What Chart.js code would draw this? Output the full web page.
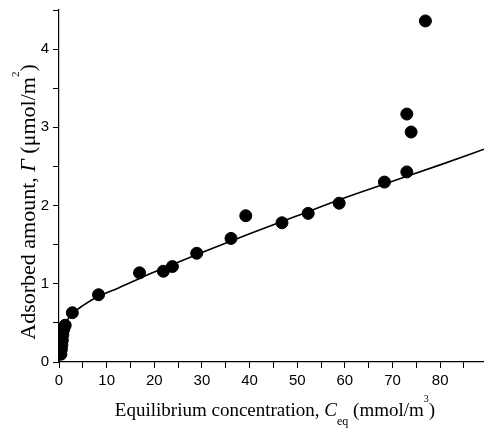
<!DOCTYPE html>
<html>
<head>
<meta charset="utf-8">
<script src="https://cdn.jsdelivr.net/npm/chart.js@4.4.1/dist/chart.umd.min.js"></script>
<style>
html, body { margin: 0; padding: 0; background: #fff; }
#wrap { width: 484px; height: 428px; }
</style>
</head>
<body>
<div id="wrap"><canvas id="adsChart"></canvas></div>
<script>
// measured points, C_eq (mmol/m3) vs adsorbed amount (umol/m2)
const ceq = [0.4, 0.5, 0.6, 0.7, 0.8, 1.0, 1.3, 2.8, 8.3, 16.9, 21.9, 23.8, 28.9, 36.1, 39.2, 46.8, 52.3, 58.8, 68.3, 73.0, 73.0, 73.9, 76.9]
const gamma = [0.1, 0.16, 0.22, 0.28, 0.35, 0.42, 0.47, 0.63, 0.86, 1.14, 1.16, 1.22, 1.39, 1.58, 1.87, 1.78, 1.90, 2.03, 2.30, 2.43, 3.17, 2.94, 4.36]

// fitted curve
const fitX = [0, 0.2, 0.5, 1, 2, 3, 5, 8, 12.6, 20, 30, 40, 50, 60, 70, 80, 89.2]
const fitY = [0, 0.25, 0.38, 0.46, 0.56, 0.63, 0.72, 0.83, 0.95, 1.15, 1.40, 1.64, 1.87, 2.10, 2.31, 2.52, 2.72]

const serif = "'Liberation Serif', 'Times New Roman', serif"
const sans = "'Liberation Sans', Arial, sans-serif"

function drawParts(ctx, parts, cx, y) {
	let total = 0
	parts.forEach(p => {
		ctx.font = p[1]
		total += ctx.measureText(p[0]).width
	})
	let x = cx - total / 2
	parts.forEach(p => {
		ctx.font = p[1]
		ctx.fillText(p[0], x, y + p[2])
		x += ctx.measureText(p[0]).width
	})
}

const axisTitles = {
	id: "axisTitles",
	afterDraw(chart) {
		const ctx = chart.ctx
		ctx.save()
		ctx.fillStyle = "#000"
		ctx.textBaseline = "alphabetic"
		ctx.textAlign = "left"

		drawParts(ctx, [
			["Equilibrium concentration, ", "19px " + serif, 0],
			["C", "italic 19px " + serif, 0],
			["eq", "12px " + serif, 9],
			[" (mmol/m", "19px " + serif, 0],
			["3", "10px " + serif, -14],
			[")", "19px " + serif, 0]
		], 275, 416)

		ctx.translate(35, 202)
		ctx.rotate(-Math.PI / 2)
		drawParts(ctx, [
			["Adsorbed amount, ", "22px " + serif, 0],
			["\u0393", "italic 22px " + serif, 0],
			[" (\u03bcmol/m", "22px " + serif, 0],
			["2", "11px " + serif, -16],
			[")", "22px " + serif, 0]
		], 0, 0)
		ctx.restore()
	}
}

const points = ceq.map((c, i) => ({ x: c, y: gamma[i] }))
const fit = fitX.map((c, i) => ({ x: c, y: fitY[i] }))

new Chart(document.getElementById("adsChart"), {
	type: "scatter",
	data: {
		datasets: [{
			type: "line",
			data: fit,
			borderColor: "#000",
			borderWidth: 1.6,
			pointRadius: 0,
			cubicInterpolationMode: "monotone",
			fill: false
		}, {
			data: points,
			backgroundColor: "#000",
			borderColor: "#000",
			pointRadius: 6,
			clip: 0
		}]
	},
	options: {
		responsive: true,
		maintainAspectRatio: false,
		animation: false,
		layout: { autoPadding: false, padding: { top: 10, right: 0, left: 0, bottom: 0 } },
		plugins: {
			legend: { display: false },
			tooltip: { enabled: false }
		},
		scales: {
			x: {
				type: "linear",
				min: 0,
				max: 89.2,
				afterFit: s => {
					s.height = 66
					s.paddingLeft = 0
					s.paddingRight = 0
				},
				border: { display: true, color: "#000", width: 1.2 },
				grid: { drawOnChartArea: false, tickLength: 6, color: "#000" },
				ticks: {
					stepSize: 5,
					includeBounds: false,
					maxRotation: 0,
					padding: 4,
					color: "#000",
					font: { family: sans, size: 15 },
					callback: v => v % 10 === 0 ? v : ""
				}
			},
			y: {
				min: 0,
				max: 4.5,
				afterFit: s => {
					s.width = 59
					s.paddingTop = 0
					s.paddingBottom = 0
				},
				border: { display: true, color: "#000", width: 1.2 },
				grid: { drawOnChartArea: false, tickLength: 6, color: "#000" },
				ticks: {
					stepSize: 0.5,
					includeBounds: false,
					padding: 4,
					color: "#000",
					font: { family: sans, size: 15 },
					callback: v => Number.isInteger(v) ? v : ""
				}
			}
		}
	},
	plugins: [axisTitles]
})
</script>
</body>
</html>
